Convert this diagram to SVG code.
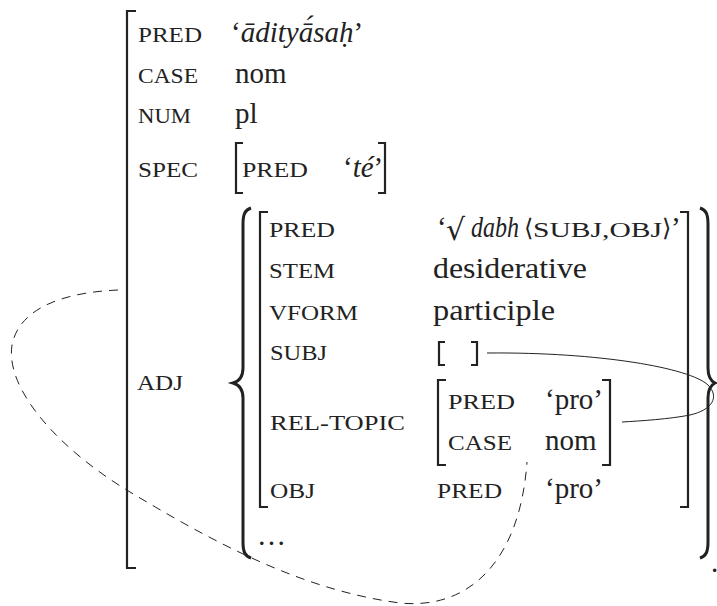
<svg xmlns="http://www.w3.org/2000/svg" width="717" height="606" viewBox="0 0 717 606">
  <style>
    text { font-family: "Liberation Serif", "DejaVu Serif", serif; fill: #222; }
    .v { font-size: 29px; }
    .i { font-style: italic; }
    .sc { font-size: 21px; }
    .ang { font-family: "DejaVu Serif", "Liberation Serif", serif; font-size: 24px; }
    .rad { font-family: "DejaVu Serif", "Liberation Serif", serif; font-size: 30px; }
    .brk { fill: none; stroke: #222; stroke-width: 2.2; }
    .brace { fill: none; stroke: #222; stroke-width: 3; }
    .link { fill: none; stroke: #222; stroke-width: 1; }
    .dash { fill: none; stroke: #222; stroke-width: 1; stroke-dasharray: 9 7; }
  </style>

  <!-- outermost f-structure -->
  <g id="fs-main">
    <path class="brk" d="M136 11 H127 V568 H136"/>
    <text class="sc" x="138" y="42" textLength="64" lengthAdjust="spacingAndGlyphs">PRED</text>
    <text class="v" x="231" y="42">‘<tspan class="i">ādityā́saḥ</tspan>’</text>
    <text class="sc" x="138" y="83" textLength="60" lengthAdjust="spacingAndGlyphs">CASE</text>
    <text class="v" x="235" y="83">nom</text>
    <text class="sc" x="138" y="123" textLength="53" lengthAdjust="spacingAndGlyphs">NUM</text>
    <text class="v" x="235" y="123">pl</text>
    <text class="sc" x="138" y="177" textLength="60" lengthAdjust="spacingAndGlyphs">SPEC</text>
    <text class="sc" x="137" y="390" textLength="46" lengthAdjust="spacingAndGlyphs">ADJ</text>
    <text class="v" x="711" y="572">.</text>
  </g>

  <!-- SPEC value -->
  <g id="fs-spec">
    <path class="brk" d="M243 143 H236 V193 H243"/>
    <path class="brk" d="M378 143 H385 V193 H378"/>
    <text class="sc" x="242" y="177" textLength="66" lengthAdjust="spacingAndGlyphs">PRED</text>
    <text class="v" x="343" y="177">‘<tspan class="i">té</tspan>’</text>
  </g>

  <!-- ADJ set -->
  <g id="adj-set">
    <path class="brace" d="M251 208 C245 210 243 214 243 224 V368 C243 376 240 381 233 383 C240 385 243 390 243 398 V542 C243 552 245 556 251 558"/>
    <path class="brace" d="M700 208 C706 210 708 214 708 224 V368 C708 376 711 381 715 383 C711 385 708 390 708 398 V542 C708 552 706 556 700 558"/>
    <text class="v" x="257" y="545">…</text>
  </g>

  <!-- participle f-structure -->
  <g id="fs-adj">
    <path class="brk" d="M268 212 H260 V507 H268"/>
    <path class="brk" d="M680 212 H688 V507 H680"/>
    <text class="sc" x="269" y="237" textLength="66" lengthAdjust="spacingAndGlyphs">PRED</text>
    <text class="v" x="437" y="237">‘</text>
    <text class="rad" x="446" y="240">√</text>
    <text class="v i" x="471" y="237" textLength="48" lengthAdjust="spacingAndGlyphs">dabh</text>
    <text class="ang" x="524" y="236">⟨</text>
    <text class="sc" x="533" y="237" textLength="129" lengthAdjust="spacingAndGlyphs">SUBJ,OBJ</text>
    <text class="ang" x="662" y="236">⟩</text>
    <text class="v" x="671" y="237">’</text>
    <text class="sc" x="269" y="278" textLength="66" lengthAdjust="spacingAndGlyphs">STEM</text>
    <text class="v" x="433" y="278" textLength="154" lengthAdjust="spacingAndGlyphs">desiderative</text>
    <text class="sc" x="269" y="320" textLength="89" lengthAdjust="spacingAndGlyphs">VFORM</text>
    <text class="v" x="433" y="320" textLength="122" lengthAdjust="spacingAndGlyphs">participle</text>
    <text class="sc" x="270" y="360" textLength="57" lengthAdjust="spacingAndGlyphs">SUBJ</text>
    <text class="sc" x="270" y="430" textLength="135" lengthAdjust="spacingAndGlyphs">REL-TOPIC</text>
    <text class="sc" x="270" y="498" textLength="45" lengthAdjust="spacingAndGlyphs">OBJ</text>
    <text class="sc" x="437" y="498" textLength="65" lengthAdjust="spacingAndGlyphs">PRED</text>
    <text class="v" x="545" y="498">‘pro’</text>
  </g>

  <!-- empty SUBJ value -->
  <g id="fs-subj">
    <path class="brk" d="M445 342 H439 V365 H445"/>
    <path class="brk" d="M471 342 H477 V365 H471"/>
  </g>

  <!-- REL-TOPIC value -->
  <g id="fs-reltopic">
    <path class="brk" d="M446 380 H438 V465 H446"/>
    <path class="brk" d="M602 380 H610 V465 H602"/>
    <text class="sc" x="448" y="409" textLength="67" lengthAdjust="spacingAndGlyphs">PRED</text>
    <text class="v" x="545" y="409">‘pro’</text>
    <text class="sc" x="448" y="450" textLength="64" lengthAdjust="spacingAndGlyphs">CASE</text>
    <text class="v" x="545" y="450">nom</text>
  </g>

  <!-- connectors -->
  <g id="connectors">
    <path class="link" d="M487 353 C600 352 690 368 708 385 C720 397 712 410 690 415 C670 419 640 421 622 422"/>
    <path class="dash" d="M118 290 C70 292 20 305 12 345 C5 390 60 450 130 492 C210 540 300 590 400 603 C470 610 520 560 527 462"/>
  </g>
</svg>
